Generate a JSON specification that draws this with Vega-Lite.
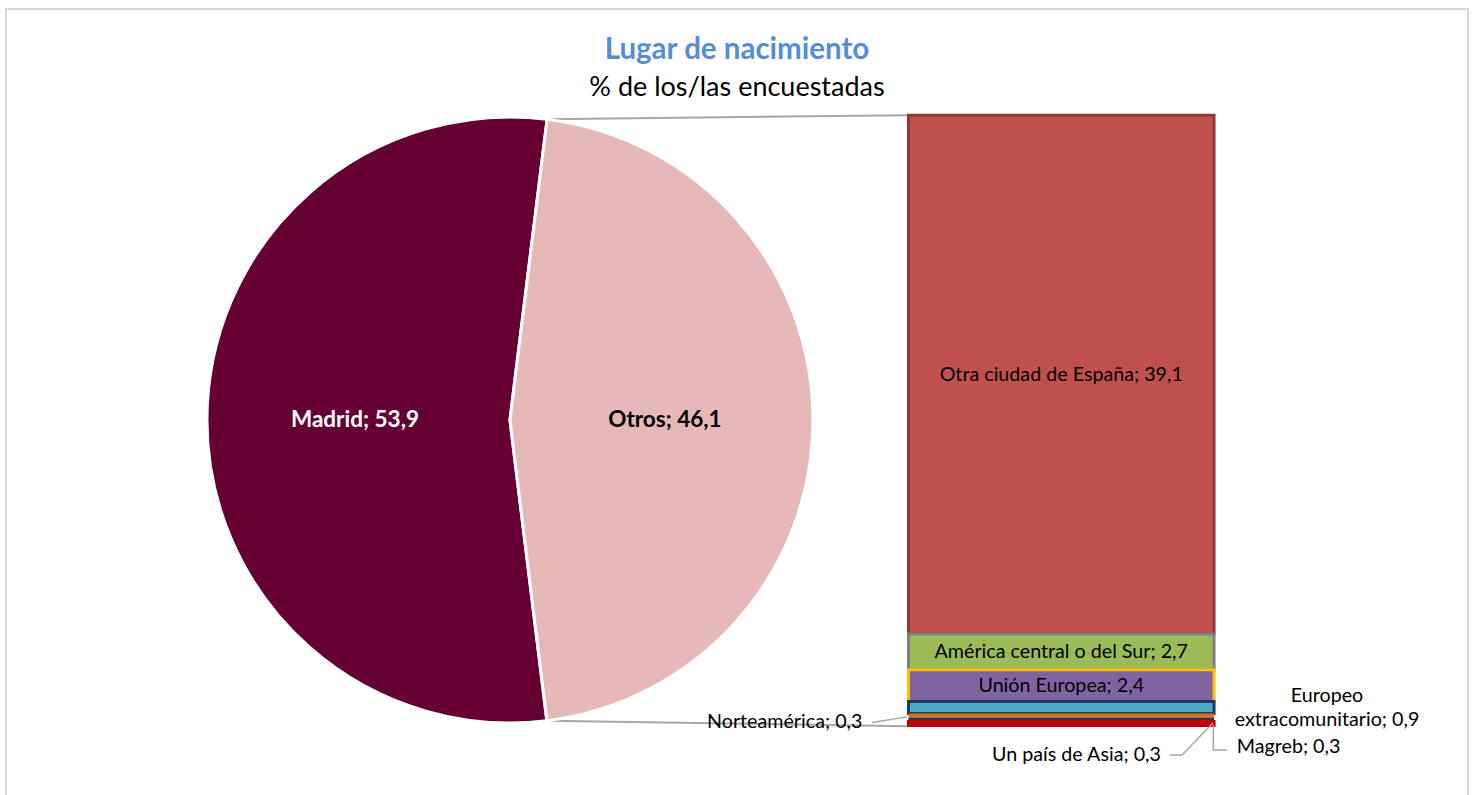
{
  "$schema": "https://vega.github.io/schema/vega-lite/v6.json",
  "width": 1462,
  "height": 790,
  "autosize": {"type": "none"},
  "padding": {"left": 6, "top": 9, "right": 7, "bottom": 0},
  "background": "white",
  "config": {
    "view": {"stroke": "#D9D9D9", "strokeWidth": 2},
    "axis": {"disable": true},
    "legend": {"disable": true},
    "font": "Lato",
    "text": {"font": "Lato"}
  },
  "title": {
    "text": "Lugar de nacimiento",
    "subtitle": "% de los/las encuestadas",
    "anchor": "middle",
    "frame": "group",
    "font": "Lato",
    "fontSize": 29.5,
    "fontWeight": "bold",
    "color": "#558ED5",
    "subtitleFont": "Lato",
    "subtitleFontSize": 27,
    "subtitleColor": "#000000",
    "subtitlePadding": 9,
    "offset": 0,
    "dx": 0,
    "dy": 92.5
  },
  "datasets": {
    "pie": [
      {"lugar": "Madrid", "valor": 53.9},
      {"lugar": "Otros", "valor": 46.1}
    ],
    "barra": [
      {"lugar": "Otra ciudad de España", "valor": 39.1, "orden": 7},
      {"lugar": "América central o del Sur", "valor": 2.7, "orden": 6},
      {"lugar": "Unión Europea", "valor": 2.4, "orden": 5},
      {"lugar": "Europeo extracomunitario", "valor": 0.9, "orden": 4},
      {"lugar": "Norteamérica", "valor": 0.3, "orden": 3},
      {"lugar": "Un país de Asia", "valor": 0.3, "orden": 2},
      {"lugar": "Magreb", "valor": 0.3, "orden": 1}
    ]
  },
  "layer": [
    {
      "data": {"values": [{}]},
      "mark": {"type": "rule", "color": "#A6A6A6", "strokeWidth": 2},
      "encoding": {
        "x": {"datum": 37.0, "type": "quantitative", "scale": {"domain": [0, 100], "nice": false, "zero": false}},
        "y": {"datum": 45.69, "type": "quantitative", "scale": {"domain": [-5.54, 54], "nice": false, "zero": false}},
        "x2": {"datum": 61.73},
        "y2": {"datum": 46.0}
      }
    },
    {
      "data": {"values": [{}]},
      "mark": {"type": "rule", "color": "#A6A6A6", "strokeWidth": 2},
      "encoding": {
        "x": {"datum": 37.0, "type": "quantitative", "scale": {"domain": [0, 100], "nice": false, "zero": false}},
        "y": {"datum": 0.36, "type": "quantitative", "scale": {"domain": [-5.54, 54], "nice": false, "zero": false}},
        "x2": {"datum": 61.73},
        "y2": {"datum": -0.05}
      }
    },
    {
      "data": {"name": "pie"},
      "mark": {"type": "arc", "outerRadius": 303, "stroke": "#FFFFFF", "strokeWidth": 3},
      "encoding": {
        "x": {"datum": 34.47, "type": "quantitative", "scale": {"domain": [0, 100], "nice": false, "zero": false}},
        "y": {"datum": 23.02, "type": "quantitative", "scale": {"domain": [-5.54, 54], "nice": false, "zero": false}},
        "theta": {"field": "valor", "type": "quantitative", "stack": true, "scale": {"range": [3.0194, 9.3026]}},
        "order": {"field": "valor", "sort": "descending"},
        "color": {
          "field": "lugar",
          "type": "nominal",
          "scale": {
            "domain": ["Madrid", "Otros", "Otra ciudad de España", "América central o del Sur", "Unión Europea", "Europeo extracomunitario", "Norteamérica", "Un país de Asia", "Magreb"],
            "range": ["#660033", "#E6B9B8", "#C0504D", "#9BBB59", "#8064A2", "#4BACC6", "#E46C0A", "#1F3864", "#C00000"]
          }
        }
      }
    },
    {
      "data": {"name": "pie"},
      "transform": [
        {"calculate": "datum.lugar + '; ' + replace(format(datum.valor, '.1f'), '.', ',')", "as": "label"}
      ],
      "mark": {"type": "text", "radius": 155, "fontSize": 22.5, "fontWeight": "bold", "font": "Lato", "align": "center", "baseline": "middle"},
      "encoding": {
        "x": {"datum": 34.47, "type": "quantitative", "scale": {"domain": [0, 100], "nice": false, "zero": false}},
        "y": {"datum": 23.02, "type": "quantitative", "scale": {"domain": [-5.54, 54], "nice": false, "zero": false}},
        "theta": {"field": "valor", "type": "quantitative", "stack": true, "scale": {"range": [3.0194, 9.3026]}},
        "order": {"field": "valor", "sort": "descending"},
        "detail": {"field": "lugar", "type": "nominal"},
        "text": {"field": "label", "type": "nominal"},
        "color": {"condition": {"test": "datum.lugar === 'Madrid'", "value": "#FFFFFF"}, "value": "#000000"}
      }
    },
    {
      "data": {"name": "barra"},
      "transform": [
        {"stack": "valor", "groupby": [], "sort": [{"field": "orden", "order": "ascending"}], "as": ["v0", "v1"]}
      ],
      "mark": {"type": "rect"},
      "encoding": {
        "x": {"datum": 61.73, "type": "quantitative", "scale": {"domain": [0, 100], "nice": false, "zero": false}},
        "x2": {"datum": 82.63},
        "y": {"field": "v0", "type": "quantitative", "scale": {"domain": [-5.54, 54], "nice": false, "zero": false}},
        "y2": {"field": "v1"},
        "color": {
          "field": "lugar",
          "type": "nominal",
          "scale": {
            "domain": ["Madrid", "Otros", "Otra ciudad de España", "América central o del Sur", "Unión Europea", "Europeo extracomunitario", "Norteamérica", "Un país de Asia", "Magreb"],
            "range": ["#660033", "#E6B9B8", "#C0504D", "#9BBB59", "#8064A2", "#4BACC6", "#E46C0A", "#1F3864", "#C00000"]
          }
        },
        "stroke": {
          "field": "lugar",
          "type": "nominal",
          "scale": {
            "domain": ["Otra ciudad de España", "América central o del Sur", "Unión Europea", "Europeo extracomunitario", "Norteamérica", "Un país de Asia", "Magreb"],
            "range": ["#953735", "#7F7F7F", "#FFC000", "#1F3864", "#E46C0A", "#1F3864", "#C00000"]
          }
        },
        "strokeWidth": {
          "condition": {"test": "datum.lugar === 'Norteamérica' || datum.lugar === 'Un país de Asia'", "value": 0},
          "value": 3
        }
      }
    },
    {
      "data": {"values": [{}]},
      "mark": {"type": "rule", "color": "#A6A6A6", "strokeWidth": 1.5},
      "encoding": {
        "x": {"datum": 59.23, "type": "quantitative", "scale": {"domain": [0, 100], "nice": false, "zero": false}},
        "y": {"datum": 0.22, "type": "quantitative", "scale": {"domain": [-5.54, 54], "nice": false, "zero": false}},
        "x2": {"datum": 61.63},
        "y2": {"datum": 0.65}
      }
    },
    {
      "data": {"values": [{}]},
      "mark": {"type": "rule", "color": "#A6A6A6", "strokeWidth": 1.5},
      "encoding": {
        "x": {"datum": 79.62, "type": "quantitative", "scale": {"domain": [0, 100], "nice": false, "zero": false}},
        "y": {"datum": -2.23, "type": "quantitative", "scale": {"domain": [-5.54, 54], "nice": false, "zero": false}},
        "x2": {"datum": 80.44},
        "y2": {"datum": -2.23}
      }
    },
    {
      "data": {"values": [{}]},
      "mark": {"type": "rule", "color": "#A6A6A6", "strokeWidth": 1.5},
      "encoding": {
        "x": {"datum": 80.44, "type": "quantitative", "scale": {"domain": [0, 100], "nice": false, "zero": false}},
        "y": {"datum": -2.23, "type": "quantitative", "scale": {"domain": [-5.54, 54], "nice": false, "zero": false}},
        "x2": {"datum": 82.56},
        "y2": {"datum": 0.19}
      }
    },
    {
      "data": {"values": [{}]},
      "mark": {"type": "rule", "color": "#A6A6A6", "strokeWidth": 1.5},
      "encoding": {
        "x": {"datum": 82.58, "type": "quantitative", "scale": {"domain": [0, 100], "nice": false, "zero": false}},
        "y": {"datum": 0.04, "type": "quantitative", "scale": {"domain": [-5.54, 54], "nice": false, "zero": false}},
        "x2": {"datum": 82.58},
        "y2": {"datum": -1.85}
      }
    },
    {
      "data": {"values": [{}]},
      "mark": {"type": "rule", "color": "#A6A6A6", "strokeWidth": 1.5},
      "encoding": {
        "x": {"datum": 82.58, "type": "quantitative", "scale": {"domain": [0, 100], "nice": false, "zero": false}},
        "y": {"datum": -1.85, "type": "quantitative", "scale": {"domain": [-5.54, 54], "nice": false, "zero": false}},
        "x2": {"datum": 83.52},
        "y2": {"datum": -1.85}
      }
    },
    {
      "data": {"name": "barra"},
      "transform": [
        {"stack": "valor", "groupby": [], "sort": [{"field": "orden", "order": "ascending"}], "as": ["v0", "v1"]},
        {"filter": "datum.valor > 2"},
        {"calculate": "(datum.v0 + datum.v1) / 2", "as": "medio"},
        {"calculate": "datum.lugar + '; ' + replace(format(datum.valor, '.1f'), '.', ',')", "as": "label"}
      ],
      "mark": {"type": "text", "fontSize": 19.7, "font": "Lato", "color": "#000000", "align": "center", "baseline": "middle"},
      "encoding": {
        "x": {"datum": 72.18, "type": "quantitative", "scale": {"domain": [0, 100], "nice": false, "zero": false}},
        "y": {"field": "medio", "type": "quantitative", "scale": {"domain": [-5.54, 54], "nice": false, "zero": false}},
        "text": {"field": "label", "type": "nominal"}
      }
    },
    {
      "data": {"name": "barra"},
      "transform": [
        {"filter": "datum.lugar === 'Norteamérica'"},
        {"calculate": "datum.lugar + '; ' + replace(format(datum.valor, '.1f'), '.', ',')", "as": "label"}
      ],
      "mark": {"type": "text", "fontSize": 19.7, "font": "Lato", "color": "#000000", "align": "right", "baseline": "middle"},
      "encoding": {
        "x": {"datum": 58.58, "type": "quantitative", "scale": {"domain": [0, 100], "nice": false, "zero": false}},
        "y": {"datum": 0.26, "type": "quantitative", "scale": {"domain": [-5.54, 54], "nice": false, "zero": false}},
        "text": {"field": "label", "type": "nominal"}
      }
    },
    {
      "data": {"name": "barra"},
      "transform": [
        {"filter": "datum.lugar === 'Un país de Asia'"},
        {"calculate": "datum.lugar + '; ' + replace(format(datum.valor, '.1f'), '.', ',')", "as": "label"}
      ],
      "mark": {"type": "text", "fontSize": 19.7, "font": "Lato", "color": "#000000", "align": "right", "baseline": "middle"},
      "encoding": {
        "x": {"datum": 79.0, "type": "quantitative", "scale": {"domain": [0, 100], "nice": false, "zero": false}},
        "y": {"datum": -2.23, "type": "quantitative", "scale": {"domain": [-5.54, 54], "nice": false, "zero": false}},
        "text": {"field": "label", "type": "nominal"}
      }
    },
    {
      "data": {"name": "barra"},
      "transform": [
        {"filter": "datum.lugar === 'Magreb'"},
        {"calculate": "datum.lugar + '; ' + replace(format(datum.valor, '.1f'), '.', ',')", "as": "label"}
      ],
      "mark": {"type": "text", "fontSize": 19.7, "font": "Lato", "color": "#000000", "align": "left", "baseline": "middle"},
      "encoding": {
        "x": {"datum": 84.18, "type": "quantitative", "scale": {"domain": [0, 100], "nice": false, "zero": false}},
        "y": {"datum": -1.62, "type": "quantitative", "scale": {"domain": [-5.54, 54], "nice": false, "zero": false}},
        "text": {"field": "label", "type": "nominal"}
      }
    },
    {
      "data": {"name": "barra"},
      "transform": [
        {"filter": "datum.lugar === 'Europeo extracomunitario'"},
        {"calculate": "replace(datum.lugar + '; ' + replace(format(datum.valor, '.1f'), '.', ','), ' ', '\\n')", "as": "label"}
      ],
      "mark": {"type": "text", "fontSize": 19.7, "font": "Lato", "color": "#000000", "align": "center", "baseline": "middle", "lineBreak": "\n", "lineHeight": 24.5},
      "encoding": {
        "x": {"datum": 90.36, "type": "quantitative", "scale": {"domain": [0, 100], "nice": false, "zero": false}},
        "y": {"datum": 2.24, "type": "quantitative", "scale": {"domain": [-5.54, 54], "nice": false, "zero": false}},
        "text": {"field": "label", "type": "nominal"}
      }
    }
  ]
}
